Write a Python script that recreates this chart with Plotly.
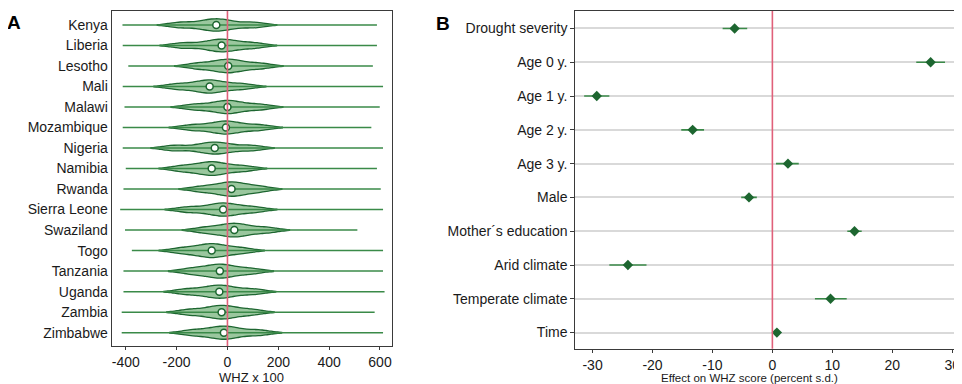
import plotly.graph_objects as go

# ---------------- Panel A data (WHZ x 100 by country) ----------------
countries = ["Kenya", "Liberia", "Lesotho", "Mali", "Malawi", "Mozambique", "Nigeria",
             "Namibia", "Rwanda", "Sierra Leone", "Swaziland", "Togo", "Tanzania",
             "Uganda", "Zambia", "Zimbabwe"]
whz_min = [-413, -412, -390, -412, -405, -412, -412, -400, -409, -422, -403, -376, -409, -409, -416, -416]
whz_max = [588, 588, 572, 612, 599, 566, 612, 588, 603, 612, 511, 612, 612, 618, 579, 612]
whz_p10 = [-184, -173, -116, -197, -130, -137, -209, -177, -99, -153, -86, -177, -140, -158, -147, -135]
whz_p30 = [-85, -68, -32, -107, -38, -45, -98, -95, -17, -57, -6, -95, -62, -69, -59, -49]
whz_median = [-44, -23, 3, -70, 0, -6, -50, -62, 16, -17, 27, -62, -30, -32, -23, -14]
whz_p70 = [0, 13, 39, -32, 37, 32, -8, -26, 46, 18, 64, -29, 5, 6, 10, 26]
whz_p90 = [102, 101, 127, 59, 126, 124, 92, 62, 122, 102, 152, 53, 89, 98, 92, 121]
whz_ticks = [-400, -200, 0, 200, 400, 600]
whz_ticktext = ["-400", "-200", "0", "200", "400", "600"]

# ---------------- Panel B data (effects on WHZ) ----------------
factors = ["Drought severity", "Age 0 y.", "Age 1 y.", "Age 2 y.", "Age 3 y.", "Male",
           "Mother´s education", "Arid climate", "Temperate climate", "Time"]
effect = [-6.3, 26.4, -29.3, -13.3, 2.6, -3.9, 13.7, -24.1, 9.7, 0.75]
ci_low = [-8.3, 24.0, -31.4, -15.2, 0.6, -5.2, 12.5, -27.2, 7.1, 0.45]
ci_high = [-4.2, 28.8, -27.2, -11.4, 4.4, -2.6, 14.9, -21.0, 12.4, 1.05]
eff_ticks = [-30, -20, -10, 0, 10, 20, 30]
eff_ticktext = ["-30", "-20", "-10", "0", "10", "20", "30"]

# page body has an 8px margin: figure is sized so that it fits the 962x384 window
OFF = 8
W, H = 962 - OFF, 384 - OFF


def px(xs):
    return (xs - OFF) / W


def py(ys):
    return (384 - ys) / H


FONT = "Liberation Sans, Arial, sans-serif"
TXT = "#1a1a1a"
AX = "#3a3a3a"
RED = "#e0607a"
DKGREEN = "#1d6630"
MIDGREEN = "#3a8a48"
FILL = "rgba(120,180,125,0.75)"

fig = go.Figure()

# violins built from the quantile values
vx, vy = [], []
for i, c in enumerate(countries):
    for arr in (whz_p10, whz_p30, whz_median, whz_p70, whz_p90):
        vx.append(arr[i])
        vy.append(c)
fig.add_trace(go.Violin(
    x=vx, y=vy, orientation="h", xaxis="x", yaxis="y",
    bandwidth=46, width=0.7, scalemode="width", side="both", spanmode="soft",
    points=False, box_visible=False, meanline_visible=False,
    line=dict(color=DKGREEN, width=1.3), fillcolor=FILL,
    hoverinfo="skip", showlegend=False,
))

# min-max whisker lines
wx, wy = [], []
for i, c in enumerate(countries):
    wx += [whz_min[i], whz_max[i], None]
    wy += [c, c, None]
fig.add_trace(go.Scatter(
    x=wx, y=wy, mode="lines", xaxis="x", yaxis="y",
    line=dict(color=MIDGREEN, width=1.5), hoverinfo="skip", showlegend=False,
))

# medians
fig.add_trace(go.Scatter(
    x=whz_median, y=countries, mode="markers", xaxis="x", yaxis="y",
    marker=dict(symbol="circle", size=7, color="white", line=dict(color=DKGREEN, width=1.5)),
    showlegend=False,
))

# Panel B point estimates with CIs
err_plus = [h - e for h, e in zip(ci_high, effect)]
err_minus = [e - l for e, l in zip(effect, ci_low)]
fig.add_trace(go.Scatter(
    x=effect, y=factors, mode="markers", xaxis="x2", yaxis="y2",
    marker=dict(symbol="diamond", size=8, color=DKGREEN),
    error_x=dict(type="data", symmetric=False, array=err_plus, arrayminus=err_minus,
                 color=MIDGREEN, thickness=1.6, width=0),
    showlegend=False,
))

axis_common = dict(
    showline=True, linecolor=AX, linewidth=1.3, mirror=True,
    tickfont=dict(family=FONT, size=14, color=TXT),
    zeroline=False, ticklabeloverflow="allow",
)

fig.update_layout(
    width=W, height=H, autosize=False,
    margin=dict(l=0, r=0, t=0, b=0),
    paper_bgcolor="white", plot_bgcolor="white",
    violinmode="overlay",
    font=dict(family=FONT, color=TXT),
    xaxis=dict(domain=[px(112), px(393)], range=[-455, 648], anchor="y",
               tickmode="array", tickvals=whz_ticks, ticktext=whz_ticktext,
               ticks="outside", ticklen=3, tickcolor=AX, showgrid=False, **axis_common),
    yaxis=dict(domain=[py(346), py(11)], anchor="x",
               type="category", categoryorder="array", categoryarray=countries[::-1],
               range=[-0.65, 15.68], ticks="", showgrid=False, **axis_common),
    xaxis2=dict(domain=[px(576.6), px(960.5)], range=[-32.86, 31.05], anchor="y2",
                tickmode="array", tickvals=eff_ticks, ticktext=eff_ticktext,
                ticks="outside", ticklen=3, tickcolor=AX, showgrid=False, **axis_common),
    yaxis2=dict(domain=[py(348.8), py(10.9)], anchor="x2",
                type="category", categoryorder="array", categoryarray=factors[::-1],
                range=[-0.48, 9.52], ticks="outside", ticklen=4, tickcolor=AX,
                showgrid=True, gridcolor="#d9d9d9", gridwidth=1.6, **axis_common),
    shapes=[
        dict(type="line", xref="x", yref="y domain", x0=0, x1=0, y0=0, y1=1,
             line=dict(color=RED, width=1.6), layer="above"),
        dict(type="line", xref="x2", yref="y2 domain", x0=0, x1=0, y0=0, y1=1,
             line=dict(color=RED, width=1.6), layer="above"),
    ],
    annotations=[
        dict(text="WHZ x 100", xref="paper", yref="paper", x=px(252.5), y=py(377),
             xanchor="center", yanchor="middle", showarrow=False,
             font=dict(family=FONT, size=13, color=TXT)),
        dict(text="Effect on WHZ score (percent s.d.)", xref="paper", yref="paper",
             x=px(751.5), y=py(378), xanchor="center", yanchor="middle",
             showarrow=False, font=dict(family=FONT, size=11.5, color=TXT)),
        dict(text="<b>A</b>", xref="paper", yref="paper", x=px(14), y=py(22),
             xanchor="center", yanchor="middle", showarrow=False,
             font=dict(family=FONT, size=19, color="black")),
        dict(text="<b>B</b>", xref="paper", yref="paper", x=px(444), y=py(24),
             xanchor="center", yanchor="middle", showarrow=False,
             font=dict(family=FONT, size=19, color="black")),
    ],
)

fig.write_html("out.html")
